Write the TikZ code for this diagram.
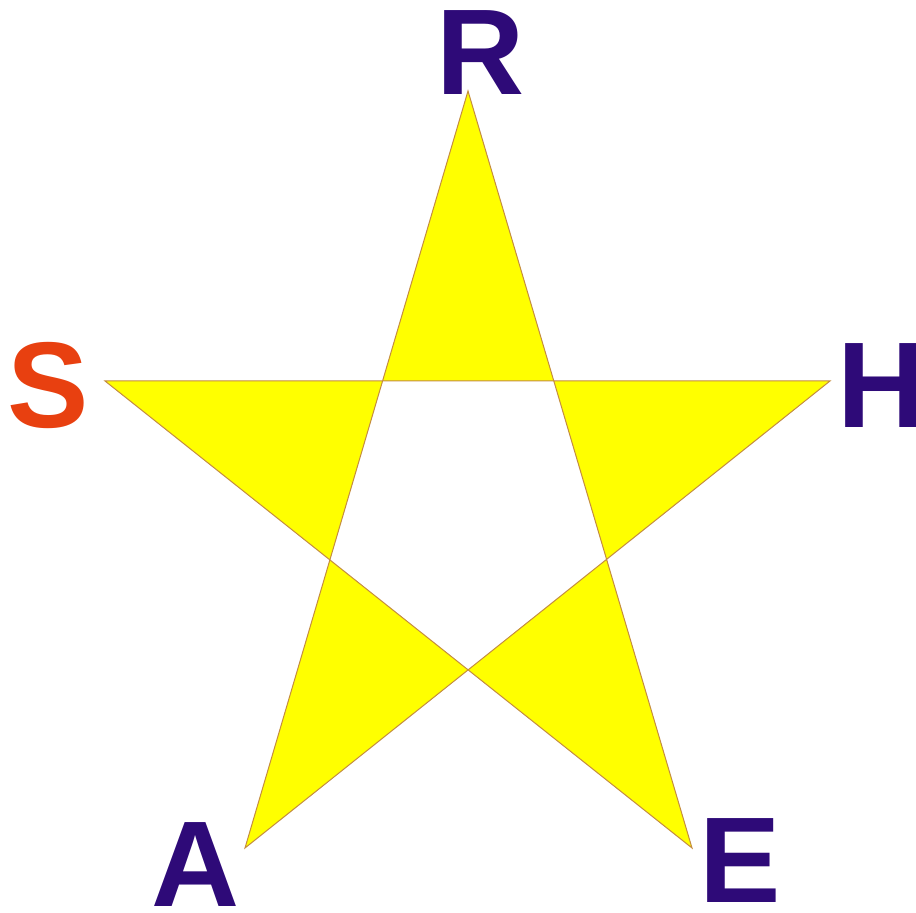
\documentclass[tikz,border=0pt]{standalone}
\usepackage{fontspec}
\setsansfont{Liberation Sans}
\usetikzlibrary{positioning}
\definecolor{starfill}{RGB}{255,255,0}
\definecolor{staredge}{RGB}{196,140,64}
\definecolor{letterpurple}{RGB}{46,10,120}
\definecolor{letterorange}{RGB}{232,64,16}

\begin{document}
\begin{tikzpicture}[
  x=0.5pt,y=-0.5pt,
  letter/.style={font=\sffamily\bfseries\fontsize{61}{61}\selectfont,
                 text=letterpurple,inner sep=0pt,anchor=center},
  star/.style={fill=starfill,draw=staredge,line width=0.5pt,even odd rule,
               line join=miter},
]
\useasboundingbox (0,0) rectangle (916,913);

% ---- star points ----
\coordinate (r) at (468,91);
\coordinate (h) at (830,381);
\coordinate (e) at (692,848);
\coordinate (a) at (245,848);
\coordinate (s) at (105,381);

% ---- pentagram, centre left empty ----
\draw[star] (r) -- (a) -- (h) -- (s) -- (e) -- cycle;

% ---- labels ----
\node[letter] (lr) at (481,53) {R};
\node[letter] (lh) at (882,386) {H};
\node[letter] (le) at (740,861) {E};
\node[letter] (la) at (196,865) {A};
\node[letter,text=letterorange] (ls) at (48,386) {S};
\end{tikzpicture}
\end{document}
